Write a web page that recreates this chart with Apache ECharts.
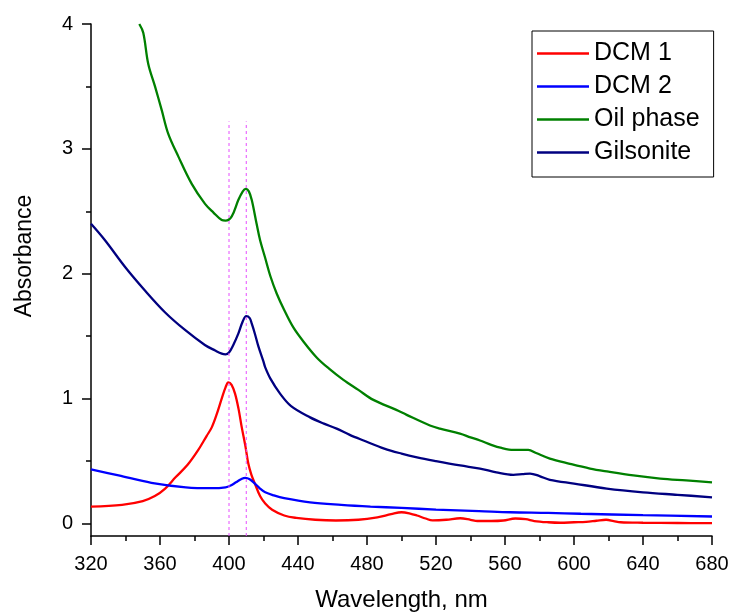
<!DOCTYPE html>
<html>
<head>
<meta charset="utf-8">
<script src="https://cdn.jsdelivr.net/npm/echarts@6/dist/echarts.min.js"></script>
<style>
html,body{margin:0;padding:0;background:#fff;}
#chart{width:733px;height:615px;}
</style>
</head>
<body>
<div id="chart"></div>
<script>
// ---- data ----
var seriesNames = ['DCM 1', 'DCM 2', 'Oil phase', 'Gilsonite'];

var dcm1Wl = [320, 338, 350, 357, 363, 369, 376, 382, 387, 390, 393, 396, 398, 399.6, 401.5, 403.5, 405.5, 407.4, 409.5, 411.2, 413, 415, 418, 421, 425, 432, 439, 450, 462, 475, 486, 494, 500, 505, 509, 514, 518, 526, 534, 540, 544, 552, 559, 566, 572, 577, 585, 592, 600, 607, 613, 618.6, 623, 627, 640, 660, 680];
var dcm1Abs = [0.136, 0.15, 0.18, 0.22, 0.28, 0.37, 0.47, 0.585, 0.70, 0.77, 0.88, 1.01, 1.09, 1.13, 1.11, 1.04, 0.92, 0.77, 0.62, 0.48, 0.39, 0.32, 0.22, 0.16, 0.11, 0.064, 0.045, 0.03, 0.024, 0.03, 0.05, 0.075, 0.09, 0.08, 0.064, 0.04, 0.025, 0.03, 0.042, 0.03, 0.02, 0.02, 0.024, 0.04, 0.035, 0.02, 0.01, 0.006, 0.01, 0.013, 0.022, 0.03, 0.02, 0.01, 0.006, 0.004, 0.003];

var dcm2Wl = [320, 336, 355, 375, 390, 398, 401, 404, 407, 409.5, 412, 415, 418, 421, 426, 432, 447, 465, 482, 500, 520, 545, 563, 585, 604, 640, 680];
var dcm2Abs = [0.433, 0.385, 0.326, 0.29, 0.283, 0.29, 0.305, 0.33, 0.355, 0.366, 0.355, 0.32, 0.28, 0.25, 0.225, 0.203, 0.17, 0.15, 0.136, 0.125, 0.112, 0.10, 0.09, 0.085, 0.078, 0.067, 0.056];

var oilWl = [348, 350.3, 353.2, 357.1, 361, 364.8, 370.6, 378.4, 386.1, 391, 395.8, 398, 401.6, 405.4, 408, 409.7, 411.5, 413.2, 416, 418, 420.9, 424, 427.7, 432, 437.3, 443, 450.8, 458, 466.3, 475, 483.7, 497, 503, 516.5, 522.3, 533.9, 540, 545.5, 552, 558, 564.8, 570, 573.5, 578, 586, 597, 609.3, 620, 634.4, 650, 665, 680];
var oilAbs = [4.0, 3.93, 3.68, 3.50, 3.31, 3.12, 2.94, 2.72, 2.56, 2.49, 2.43, 2.425, 2.46, 2.59, 2.66, 2.68, 2.66, 2.59, 2.40, 2.27, 2.13, 1.98, 1.84, 1.71, 1.57, 1.46, 1.33, 1.24, 1.15, 1.07, 0.99, 0.91, 0.87, 0.785, 0.76, 0.72, 0.69, 0.665, 0.63, 0.605, 0.59, 0.59, 0.59, 0.565, 0.52, 0.48, 0.44, 0.415, 0.385, 0.36, 0.345, 0.33];

var gilWl = [320, 328, 340, 351, 363, 374.5, 386, 392, 395.8, 398, 400, 402.5, 405.4, 408, 410, 412, 413.2, 415, 417, 419.9, 421, 424, 429.6, 436, 447, 455, 462.4, 470, 478, 490, 500, 509, 520, 534, 545.5, 555, 564.8, 570, 574.5, 580, 586, 600, 619, 640, 660, 680];
var gilAbs = [2.40, 2.27, 2.05, 1.87, 1.69, 1.55, 1.43, 1.385, 1.36, 1.355, 1.37, 1.43, 1.52, 1.62, 1.66, 1.645, 1.60, 1.52, 1.42, 1.30, 1.25, 1.16, 1.04, 0.94, 0.85, 0.80, 0.76, 0.71, 0.665, 0.60, 0.56, 0.53, 0.50, 0.465, 0.44, 0.41, 0.39, 0.395, 0.40, 0.38, 0.35, 0.32, 0.28, 0.25, 0.23, 0.21];

var markerWl = [400, 410];
var markerRange = [-0.1, 3.22];

var yMajorTicks = [0, 1, 2, 3, 4];
var yMinorTicks = [0.5, 1.5, 2.5, 3.5];

function zip(xs, ys) { return xs.map(function (x, i) { return [x, ys[i]]; }); }

var colors = ['#ff0000', '#0000ff', '#008000', '#000080'];
var dataSets = [zip(dcm1Wl, dcm1Abs), zip(dcm2Wl, dcm2Abs), zip(oilWl, oilAbs), zip(gilWl, gilAbs)];

var series = seriesNames.map(function (n, i) {
  return {
    name: n, type: 'line', data: dataSets[i], showSymbol: false, symbol: 'none',
    smooth: 0.35,
    lineStyle: { color: colors[i], width: 2.3 }, itemStyle: { color: colors[i] },
    z: 3
  };
});
markerWl.forEach(function (w, i) {
  series.push({
    name: 'marker' + i, type: 'line', symbol: 'none', silent: true,
    data: [[w, markerRange[0]], [w, markerRange[1]]],
    lineStyle: { color: '#e64cff', width: 1, type: [3, 3] }, z: 4
  });
});

var font = 'Liberation Sans, Arial, sans-serif';
var axisFont = { fontFamily: font, fontSize: 20, color: '#000' };

var chart = echarts.init(document.getElementById('chart'), null, { renderer: 'canvas' });
chart.setOption({
  animation: false,
  backgroundColor: '#fff',
  grid: { left: 91, right: 21, top: 24, bottom: 79, containLabel: false, outerBoundsMode: 'none' },
  legend: {
    data: seriesNames, orient: 'vertical', left: 532, top: 31,
    borderColor: '#000', borderWidth: 1, padding: [10, 14, 12, 5],
    icon: 'rect', itemWidth: 52, itemHeight: 2.5, itemGap: 8,
    textStyle: { fontFamily: font, fontSize: 25, color: '#000' }
  },
  xAxis: {
    type: 'value', min: 320, max: 680, interval: 40,
    name: 'Wavelength, nm', nameLocation: 'middle', nameGap: 52,
    nameTextStyle: { fontFamily: font, fontSize: 24, color: '#000' },
    axisLine: { show: true, onZero: false, lineStyle: { color: '#000', width: 1.5 } },
    axisTick: { show: true, inside: false, length: 9, lineStyle: { color: '#000', width: 1.5 } },
    minorTick: { show: true, splitNumber: 2, length: 5, lineStyle: { color: '#000', width: 1.5 } },
    axisLabel: Object.assign({ margin: 18 }, axisFont),
    splitLine: { show: false }
  },
  yAxis: [{
    type: 'value', min: -0.1, max: 4, position: 'left',
    name: 'Absorbance', nameLocation: 'middle', nameGap: 55,
    nameTextStyle: { fontFamily: font, fontSize: 23, color: '#000', padding: [0, 0, 0, 48] },
    axisLine: { show: true, onZero: false, lineStyle: { color: '#000', width: 1.5 } },
    axisTick: { show: true, inside: false, length: 9, customValues: yMajorTicks, lineStyle: { color: '#000', width: 1.5 } },
    axisLabel: Object.assign({ margin: 18, customValues: yMajorTicks }, axisFont),
    splitLine: { show: false }
  }, {
    type: 'value', min: -0.1, max: 4, position: 'left', offset: 0,
    axisLine: { show: false },
    axisTick: { show: true, inside: false, length: 5, customValues: yMinorTicks, lineStyle: { color: '#000', width: 1.5 } },
    axisLabel: { show: false },
    splitLine: { show: false }
  }],
  series: series
});
</script>
</body>
</html>
